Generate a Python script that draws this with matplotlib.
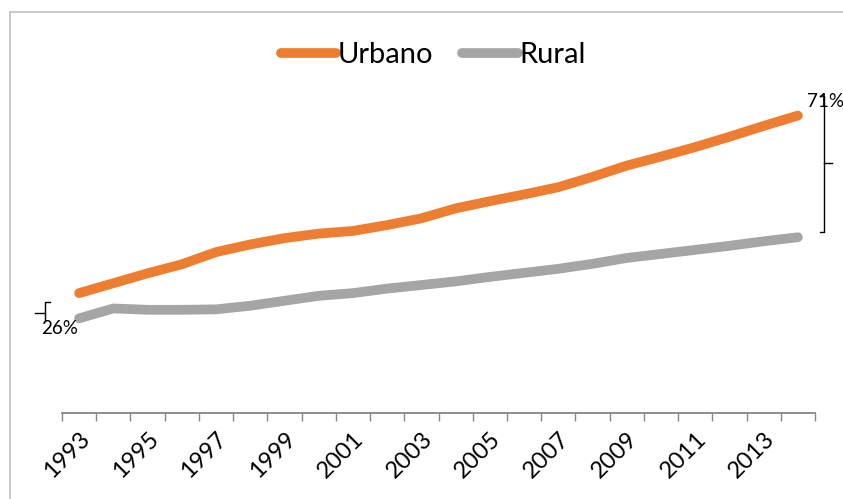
import numpy as np
import matplotlib.pyplot as plt
from matplotlib.patches import Rectangle
from matplotlib.lines import Line2D

plt.rcParams['font.family'] = ['Lato', 'DejaVu Sans']

years = list(range(1993, 2015))
urbano = [31.6, 33.8, 36.0, 38.0, 40.7, 42.4, 43.8, 44.8, 45.4, 46.7, 48.2,
          50.4, 52.0, 53.5, 55.1, 57.4, 59.9, 61.9, 64.0, 66.3, 68.7, 71.0]
rural = [26.0, 28.2, 27.9, 27.9, 28.0, 28.8, 29.9, 31.0, 31.6, 32.6, 33.4,
         34.2, 35.2, 36.1, 37.0, 38.1, 39.4, 40.3, 41.2, 42.1, 43.1, 44.0]
year_labels = [str(y) for y in years[::2]]

W, H = 843, 499
fig = plt.figure(figsize=(W / 100, H / 100), dpi=100)

def fx(px):
    return px / W

def fy(py):
    return 1 - py / H

# outer frame of the chart area
fig.patches.append(Rectangle((fx(10), -0.1), 1.2, fy(12) + 0.1,
                             transform=fig.transFigure, fill=False,
                             edgecolor='#bfbfbf', linewidth=1.2))

ax = fig.add_axes([fx(62), fy(413), fx(815) - fx(62), fy(75) - fy(413)])
x = np.arange(len(years))
ax.plot(x, urbano, color='#ED7D31', lw=7, solid_capstyle='round', label='Urbano')
ax.plot(x, rural, color='#A5A5A5', lw=7, solid_capstyle='round', label='Rural')

ax.set_xlim(-0.5, len(years) - 0.5)
ax.set_ylim(5, 80)
for s in ['top', 'right', 'left']:
    ax.spines[s].set_visible(False)
ax.spines['bottom'].set_color('#868686')
ax.spines['bottom'].set_linewidth(1.3)
ax.set_yticks([])

ax.set_xticks(np.arange(-0.5, len(years), 1))
ax.set_xticklabels([])
ax.tick_params(axis='x', which='major', length=6, width=1, color='#868686', direction='out')
ax.set_xticks(x[::2], minor=True)
ax.set_xticklabels(year_labels, minor=True, rotation=45, ha='right', va='top',
                   rotation_mode='anchor', fontsize=17)
ax.tick_params(axis='x', which='minor', length=0, pad=11)

# end-point labels
ax.annotate(f'{rural[0]:.0f}%', (x[0], rural[0]), xytext=(-14, -7),
            textcoords='offset points', ha='center', va='center', fontsize=13.5)
ax.annotate(f'{urbano[-1]:.0f}%', (x[-1], urbano[-1]), xytext=(20, 10),
            textcoords='offset points', ha='center', va='center', fontsize=13.5)

# bracket shapes beside the end points
def bracket(pts):
    xs = [fx(p[0]) for p in pts]
    ys = [fy(p[1]) for p in pts]
    fig.add_artist(Line2D(xs, ys, transform=fig.transFigure, color='black', lw=1))

bracket([(50, 302), (45, 302), (45, 321)])
bracket([(35, 313), (45, 313)])
bracket([(820, 96), (824, 96), (824, 232), (820, 232)])
bracket([(824, 163), (832, 163)])

fig.legend(loc='center', bbox_to_anchor=(fx(433), fy(55)), ncol=2, frameon=False,
           fontsize=21, handlelength=1.9, handletextpad=0.05, columnspacing=1.0)

fig.savefig('out.png', dpi=100)
